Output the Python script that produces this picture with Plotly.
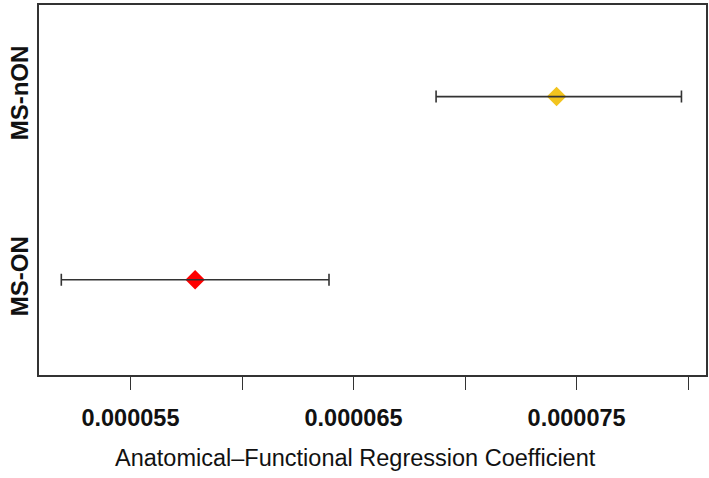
import plotly.graph_objects as go

groups = ["MS-ON", "MS-nON"]
estimates = [0.0000579, 0.0000741]
lower = [0.0000519, 0.0000687]
upper = [0.0000639, 0.0000797]
colors = ["#FF0000", "#F2C41E"]
x_tick_vals = [0.000055, 0.000060, 0.000065, 0.000070, 0.000075, 0.000080]
x_tick_text = ["0.000055", "", "0.000065", "", "0.000075", ""]
x_title = "Anatomical–Functional Regression Coefficient"

ypos = [1, 2]
fig = go.Figure()
fig.add_trace(go.Scatter(
    x=estimates, y=ypos, mode="markers",
    marker=dict(symbol="diamond", size=15, color=colors),
    showlegend=False, hoverinfo="skip"))
fig.add_trace(go.Scatter(
    x=estimates, y=ypos, mode="markers",
    marker=dict(size=1, opacity=0),
    error_x=dict(type="data", symmetric=False,
                 array=[u - e for u, e in zip(upper, estimates)],
                 arrayminus=[e - l for e, l in zip(estimates, lower)],
                 color="#333333", thickness=1.6, width=6),
    showlegend=False, hoverinfo="skip"))

fig.add_annotation(text=x_title, xref="paper", yref="paper",
                   x=0.475, y=-0.224, xanchor="center", yanchor="middle",
                   showarrow=False, font=dict(size=23.5, color="#111111"))

fig.update_layout(
    width=709, height=478,
    margin=dict(l=39, r=3, t=5, b=103),
    plot_bgcolor="white", paper_bgcolor="white",
    font=dict(family="Liberation Sans, Arial, sans-serif", color="black"),
    xaxis=dict(range=[0.0000509, 0.0000808], tickvals=x_tick_vals,
               ticktext=["<b>%s</b>" % t if t else "" for t in x_tick_text],
               ticks="outside", ticklen=13, tickwidth=1.2, tickcolor="#333333",
               ticklabelstandoff=8,
               tickfont=dict(size=23.5, color="#111111"), showgrid=False, zeroline=False,
               automargin=False,
               showline=True, linecolor="#333333", linewidth=1.5, mirror=True),
    yaxis=dict(range=[0.48, 2.5], tickvals=ypos,
               ticktext=["<b>%s</b>" % g for g in groups],
               tickangle=-90, ticks="", tickfont=dict(size=24, color="#111111"),
               showgrid=False, zeroline=False, automargin=False,
               showline=True, linecolor="#333333", linewidth=1.5, mirror=True),
)
fig.write_html("out.html", config={"displayModeBar": False},
               post_script="document.body.style.margin='0';document.body.style.overflow='hidden';")
